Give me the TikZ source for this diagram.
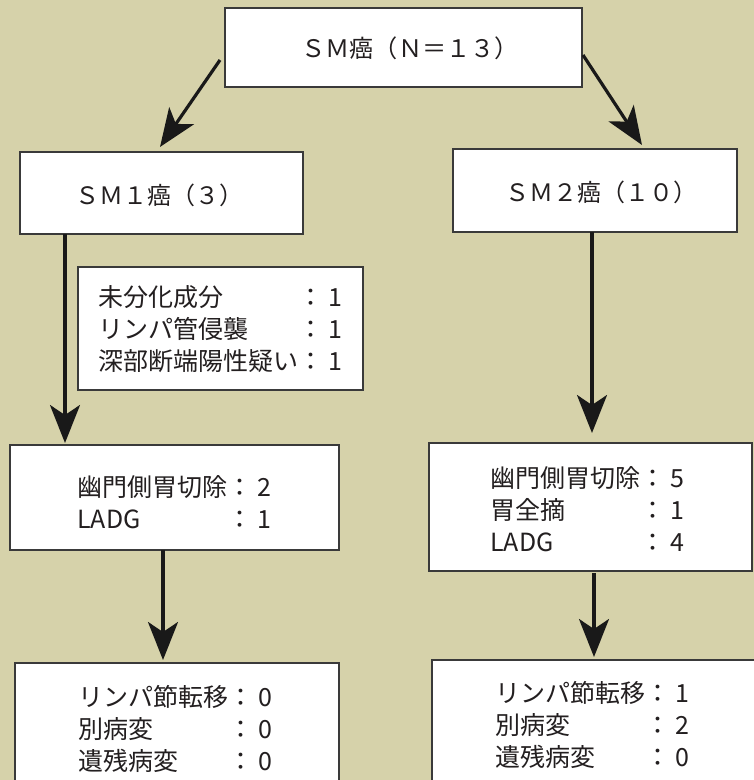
\documentclass[tikz,border=0pt]{standalone}
\usepackage{fontspec}
\setmainfont{Noto Sans CJK JP}
\usetikzlibrary{arrows.meta}
\definecolor{bg}{HTML}{D6D2AA}
\definecolor{ink}{HTML}{231F20}
\definecolor{edge}{HTML}{3A3A3A}
\newcommand{\cln}{：\hspace{5pt}}
\begin{document}
\begin{tikzpicture}[x=1pt,y=-1pt,
  box/.style={draw=edge, line width=1.2pt, fill=white, rectangle, inner sep=0pt, outer sep=0pt, anchor=north west},
  title/.style={font=\fontsize{24}{28}\selectfont, text=ink, inner sep=0pt, anchor=west},
  body/.style={font=\fontsize{25}{32}\selectfont, text=ink, inner sep=0pt, anchor=west},
  arr/.style={draw=black!90, line width=3.2pt, -{Stealth[length=38pt,width=30pt,inset=10pt]}}]
\useasboundingbox (0,0) rectangle (754,780);
\fill[bg] (0,0) rectangle (754,780);
\begin{scope}
\clip (0,0) rectangle (754,780);
% boxes
\node[box, minimum width=357pt, minimum height=79pt] (top) at (225,8) {};
\node[box, minimum width=283pt, minimum height=82pt] (sm1) at (20,152) {};
\node[box, minimum width=284pt, minimum height=83pt] (sm2) at (453,149) {};
\node[box, minimum width=285pt, minimum height=123pt] (info) at (78,267) {};
\node[box, minimum width=329pt, minimum height=105pt] (L2) at (10,445) {};
\node[box, minimum width=323pt, minimum height=128pt] (R2) at (429,443) {};
\node[box, minimum width=324pt, minimum height=150pt] (L3) at (15,663) {};
\node[box, minimum width=330pt, minimum height=150pt] (R3) at (432,660) {};
% titles
\node[title, font=\fontsize{24.2}{28}\selectfont] (ttop) at (301,48) {ＳＭ癌（Ｎ＝１３）};
\node[title] (tsm1) at (75,195) {ＳＭ１癌（３）};
\node[title] (tsm2) at (505,192) {ＳＭ２癌（１０）};
% bodies
\node[body] (tinfo) at (98,331.6) {\begin{tabular}{@{}l@{}l@{}}未分化成分 & \cln 1\\ リンパ管侵襲 & \cln 1\\ 深部断端陽性疑い & \cln 1\end{tabular}};
\node[body] (tL2) at (77,506) {\begin{tabular}{@{}l@{}l@{}}幽門側胃切除 & \cln 2\\ LADG & \cln 1\end{tabular}};
\node[body] (tR2) at (490,512.6) {\begin{tabular}{@{}l@{}l@{}}幽門側胃切除 & \cln 5\\ 胃全摘 & \cln 1\\ LADG & \cln 4\end{tabular}};
\node[body] (tL3) at (78,732) {\begin{tabular}{@{}l@{}l@{}}リンパ節転移 & \cln 0\\ 別病変 & \cln 0\\ 遺残病変 & \cln 0\end{tabular}};
\node[body] (tR3) at (495,728) {\begin{tabular}{@{}l@{}l@{}}リンパ節転移 & \cln 1\\ 別病変 & \cln 2\\ 遺残病変 & \cln 0\end{tabular}};
% connectors
\draw[arr] ([shift={(-5,12.5)}]top.west) -- ([shift={(-1.5,-5)}]sm1.north);
\draw[arr] ([shift={(1,7.5)}]top.east) -- ([shift={(189,-4)}]sm2.north west);
\draw[arr, shorten >=2pt] ([xshift=45pt]sm1.south west) -- ([xshift=55pt]L2.north west);
\draw[arr, shorten >=10pt] ([xshift=139pt]sm2.south west) -- ([xshift=163pt]R2.north west);
\draw[arr, shorten >=3pt] ([xshift=153pt]L2.south west) -- ([xshift=148pt]L3.north west);
\draw[arr, shorten <=2pt, shorten >=3pt] ([xshift=165pt]R2.south west) -- ([xshift=162pt]R3.north west);
\end{scope}
\end{tikzpicture}
\end{document}
